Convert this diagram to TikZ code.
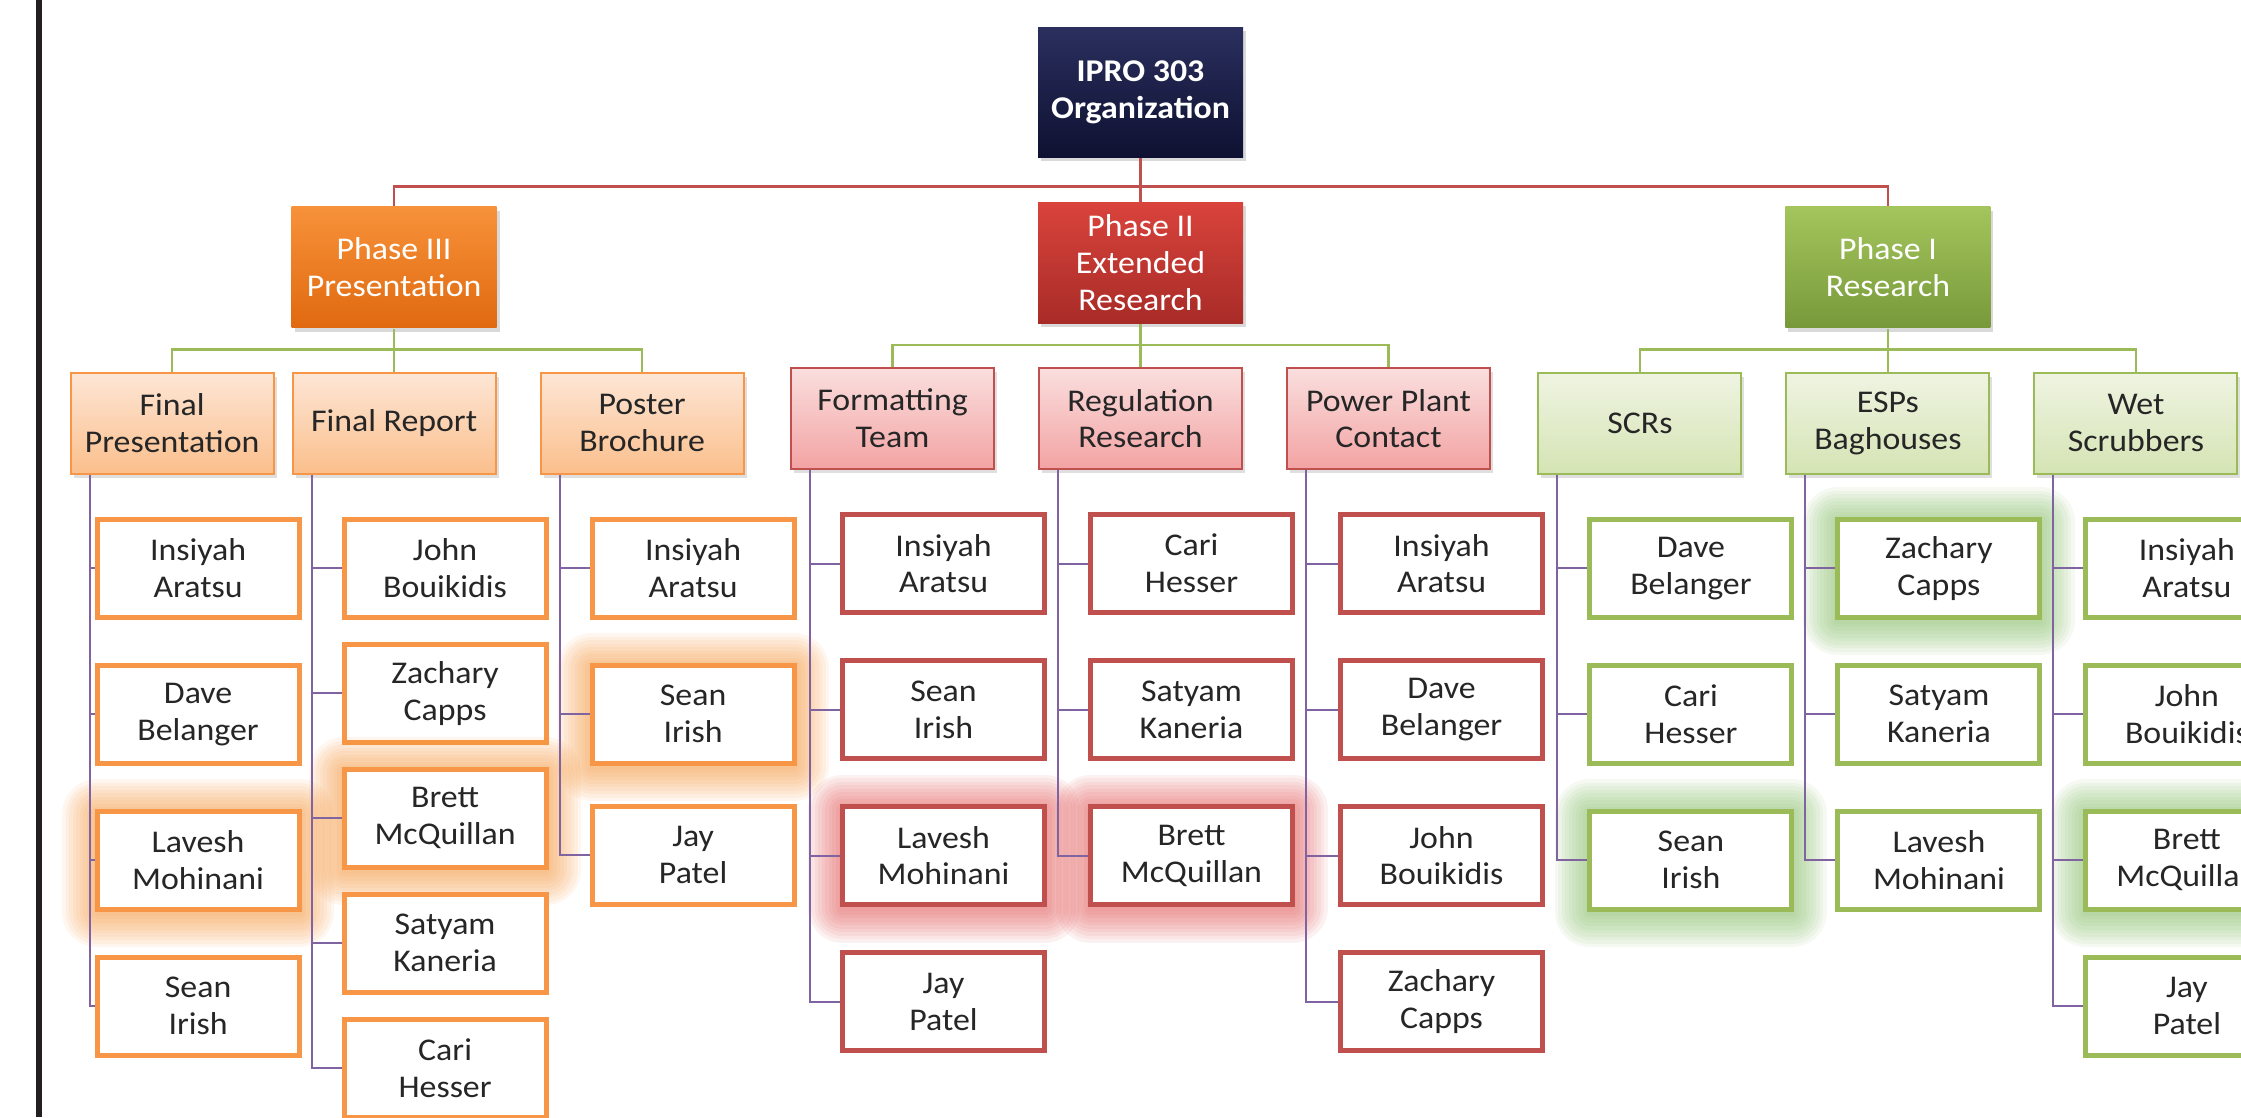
\documentclass[tikz,border=0pt]{standalone}
\usepackage{fontspec}
\setmainfont{Carlito}[FakeStretch=1.07]
\usepackage{tikz}
\usetikzlibrary{positioning,shadows,calc}

\definecolor{navytop}{HTML}{2A2F5E}
\definecolor{navybot}{HTML}{0E1131}
\definecolor{orbrd}{HTML}{F79646}
\definecolor{ortop}{HTML}{F7923A}
\definecolor{orbot}{HTML}{E0690F}
\definecolor{orlt1}{HTML}{FDE6D6}
\definecolor{orlt2}{HTML}{FBBF8C}
\definecolor{rdbrd}{HTML}{C0504D}
\definecolor{rdtop}{HTML}{D9433C}
\definecolor{rdbot}{HTML}{A82B27}
\definecolor{rdlt1}{HTML}{FADEDE}
\definecolor{rdlt2}{HTML}{F3A3A3}
\definecolor{gnbrd}{HTML}{9BBB59}
\definecolor{gntop}{HTML}{A4C55C}
\definecolor{gnbot}{HTML}{77993A}
\definecolor{gnlt1}{HTML}{EFF4E2}
\definecolor{gnlt2}{HTML}{D5E4B4}
\definecolor{orglow}{HTML}{F59A45}
\definecolor{rdglow}{HTML}{E25C5C}
\definecolor{gnglow}{HTML}{86BD68}
\definecolor{linkpurple}{HTML}{8064A2}
\definecolor{edge}{HTML}{231F20}
\definecolor{txt}{HTML}{262626}

\tikzset{
	box/.style={rectangle, align=center, inner sep=0pt, text=txt,
		font=\fontsize{9}{10.5}\selectfont},
	orgbox/.style={box, minimum width=2.05cm, minimum height=1.30cm, text=white,
		top color=navytop, bottom color=navybot,
		font=\fontsize{9}{10.5}\selectfont\bfseries,
		drop shadow={shadow xshift=0.03cm, shadow yshift=-0.04cm, opacity=0.3}},
	phasebox/.style={box, minimum width=2.05cm, minimum height=1.21cm, text=white,
		drop shadow={shadow xshift=0.03cm, shadow yshift=-0.04cm, opacity=0.3}},
	taskbox/.style={box, line width=0.02cm, minimum width=2.03cm, minimum height=1.01cm,
		drop shadow={shadow xshift=0.03cm, shadow yshift=-0.04cm, opacity=0.25}},
	orangetask/.style={taskbox, draw=orbrd, top color=orlt1, bottom color=orlt2},
	redtask/.style={taskbox, draw=rdbrd, top color=rdlt1, bottom color=rdlt2},
	greentask/.style={taskbox, draw=gnbrd, top color=gnlt1, bottom color=gnlt2},
	namebox/.style={box, draw=#1, fill=white, line width=0.05cm,
		minimum width=2.02cm, minimum height=0.98cm},
	ring/.style 2 args={preaction={draw=#1, draw opacity=0.085, line width=#2,
		line join=round, transform canvas={yshift=-0.03cm}}},
	glow/.style={ring={#1}{0.70cm}, ring={#1}{0.63cm}, ring={#1}{0.56cm},
		ring={#1}{0.49cm}, ring={#1}{0.42cm}, ring={#1}{0.35cm},
		ring={#1}{0.28cm}, ring={#1}{0.21cm}, ring={#1}{0.14cm}, ring={#1}{0.07cm}},
	toplink/.style={draw=rdbrd, line width=0.025cm},
	tasklink/.style={draw=gnbrd, line width=0.025cm},
	namelink/.style={draw=linkpurple, line width=0.02cm},
}

\begin{document}
\begin{tikzpicture}

\useasboundingbox (0,0) rectangle (22.41,-11.17);
\fill[edge] (0.36,0) rectangle (0.42,-11.17);

% Organization
\node [orgbox] (ipro) at (11.405,-0.92) {IPRO 303\\Organization};

% Phases
\node [phasebox, top color=rdtop, bottom color=rdbot,
	below = 0.44cm of ipro
] (p2) {Phase II\\Extended\\Research};
\node [phasebox, top color=ortop, bottom color=orbot,
	left = 5.4cm of p2, yshift=-0.045cm
] (p3) {Phase III\\Presentation};
\node [phasebox, top color=gntop, bottom color=gnbot,
	right = 5.41cm of p2, yshift=-0.045cm
] (p1) {Phase I\\Research};

% Phase III tasks
\node [orangetask, below = 0.43cm of p3] (fr) {Final Report};
\node [orangetask, left = 0.17cm of fr] (fp) {Final\\Presentation};
\node [orangetask, right = 0.43cm of fr] (pb) {Poster\\Brochure};

% Phase II tasks
\node [redtask, below = 0.43cm of p2] (rr) {Regulation\\Research};
\node [redtask, left = 0.43cm of rr] (ft) {Formatting\\Team};
\node [redtask, right = 0.43cm of rr] (pp) {Power Plant\\Contact};

% Phase I tasks
\node [greentask, below = 0.43cm of p1] (esp) {ESPs\\Baghouses};
\node [greentask, left = 0.43cm of esp] (scr) {SCRs};
\node [greentask, right = 0.43cm of esp] (ws) {Wet\\Scrubbers};

% Final Presentation
\node [namebox=orbrd, below = 0.42cm of fp, xshift=0.26cm] (fp1) {Insiyah\\Aratsu};
\node [namebox=orbrd, below = 0.43cm of fp1] (fp2) {Dave\\Belanger};
\node [namebox=orbrd, glow=orglow, below = 0.43cm of fp2] (fp3) {Lavesh\\Mohinani};
\node [namebox=orbrd, below = 0.43cm of fp3] (fp4) {Sean\\Irish};

% Final Report
\node [namebox=orbrd, below = 0.42cm of fr, xshift=0.51cm] (fr1) {John\\Bouikidis};
\node [namebox=orbrd, below = 0.22cm of fr1] (fr2) {Zachary\\Capps};
\node [namebox=orbrd, glow=orglow, below = 0.22cm of fr2] (fr3) {Brett\\McQuillan};
\node [namebox=orbrd, below = 0.22cm of fr3] (fr4) {Satyam\\Kaneria};
\node [namebox=orbrd, below = 0.22cm of fr4] (fr5) {Cari\\Hesser};

% Poster Brochure
\node [namebox=orbrd, below = 0.42cm of pb, xshift=0.51cm] (pb1) {Insiyah\\Aratsu};
\node [namebox=orbrd, glow=orglow, below = 0.43cm of pb1] (pb2) {Sean\\Irish};
\node [namebox=orbrd, below = 0.38cm of pb2] (pb3) {Jay\\Patel};

% Formatting Team
\node [namebox=rdbrd, below = 0.42cm of ft, xshift=0.51cm] (ft1) {Insiyah\\Aratsu};
\node [namebox=rdbrd, below = 0.43cm of ft1] (ft2) {Sean\\Irish};
\node [namebox=rdbrd, glow=rdglow, below = 0.43cm of ft2] (ft3) {Lavesh\\Mohinani};
\node [namebox=rdbrd, below = 0.43cm of ft3] (ft4) {Jay\\Patel};

% Regulation Research
\node [namebox=rdbrd, below = 0.42cm of rr, xshift=0.51cm] (rr1) {Cari\\Hesser};
\node [namebox=rdbrd, below = 0.43cm of rr1] (rr2) {Satyam\\Kaneria};
\node [namebox=rdbrd, glow=rdglow, below = 0.43cm of rr2] (rr3) {Brett\\McQuillan};

% Power Plant Contact
\node [namebox=rdbrd, below = 0.42cm of pp, xshift=0.53cm] (pp1) {Insiyah\\Aratsu};
\node [namebox=rdbrd, below = 0.43cm of pp1] (pp2) {Dave\\Belanger};
\node [namebox=rdbrd, below = 0.43cm of pp2] (pp3) {John\\Bouikidis};
\node [namebox=rdbrd, below = 0.43cm of pp3] (pp4) {Zachary\\Capps};

% SCRs
\node [namebox=gnbrd, below = 0.42cm of scr, xshift=0.51cm] (scr1) {Dave\\Belanger};
\node [namebox=gnbrd, below = 0.43cm of scr1] (scr2) {Cari\\Hesser};
\node [namebox=gnbrd, glow=gnglow, below = 0.43cm of scr2] (scr3) {Sean\\Irish};

% ESPs Baghouses
\node [namebox=gnbrd, glow=gnglow, below = 0.42cm of esp, xshift=0.51cm] (esp1) {Zachary\\Capps};
\node [namebox=gnbrd, below = 0.43cm of esp1] (esp2) {Satyam\\Kaneria};
\node [namebox=gnbrd, below = 0.43cm of esp2] (esp3) {Lavesh\\Mohinani};

% Wet Scrubbers
\node [namebox=gnbrd, below = 0.42cm of ws, xshift=0.51cm] (ws1) {Insiyah\\Aratsu};
\node [namebox=gnbrd, below = 0.43cm of ws1] (ws2) {John\\Bouikidis};
\node [namebox=gnbrd, glow=gnglow, below = 0.43cm of ws2] (ws3) {Brett\\McQuillan};
\node [namebox=gnbrd, below = 0.43cm of ws3] (ws4) {Jay\\Patel};

% Links from the organization to the phases
\coordinate [below = 0.29cm of ipro] (topbar);
\draw[toplink] (p3.north) |- (topbar) -| (p1.north);
\draw[toplink] (ipro) -- (p2);

% Links from the phases to the tasks
\coordinate [below = 0.21cm of p3] (bar3);
\coordinate [below = 0.21cm of p2] (bar2);
\coordinate [below = 0.21cm of p1] (bar1);
\draw[tasklink] (fp.north) |- (bar3) -| (pb.north);
\draw[tasklink] (p3) -- (fr);
\draw[tasklink] (ft.north) |- (bar2) -| (pp.north);
\draw[tasklink] (p2) -- (rr);
\draw[tasklink] (scr.north) |- (bar1) -| (ws.north);
\draw[tasklink] (p1) -- (esp);

% Links from the tasks to the members
\foreach \t/\last/\rest in {fp/fp4/{fp1,fp2,fp3}, fr/fr5/{fr1,fr2,fr3,fr4},
	pb/pb3/{pb1,pb2}, ft/ft4/{ft1,ft2,ft3}, rr/rr3/{rr1,rr2},
	pp/pp4/{pp1,pp2,pp3}, scr/scr3/{scr1,scr2}, esp/esp3/{esp1,esp2},
	ws/ws4/{ws1,ws2,ws3}} {
	\coordinate (\t x) at ($(\t.south west)+(0.20,0)$);
	\draw[namelink] (\t x) |- (\last);
	\foreach \n in \rest
		\draw[namelink] (\t x |- \n) -- (\n);
}

\end{tikzpicture}
\end{document}
